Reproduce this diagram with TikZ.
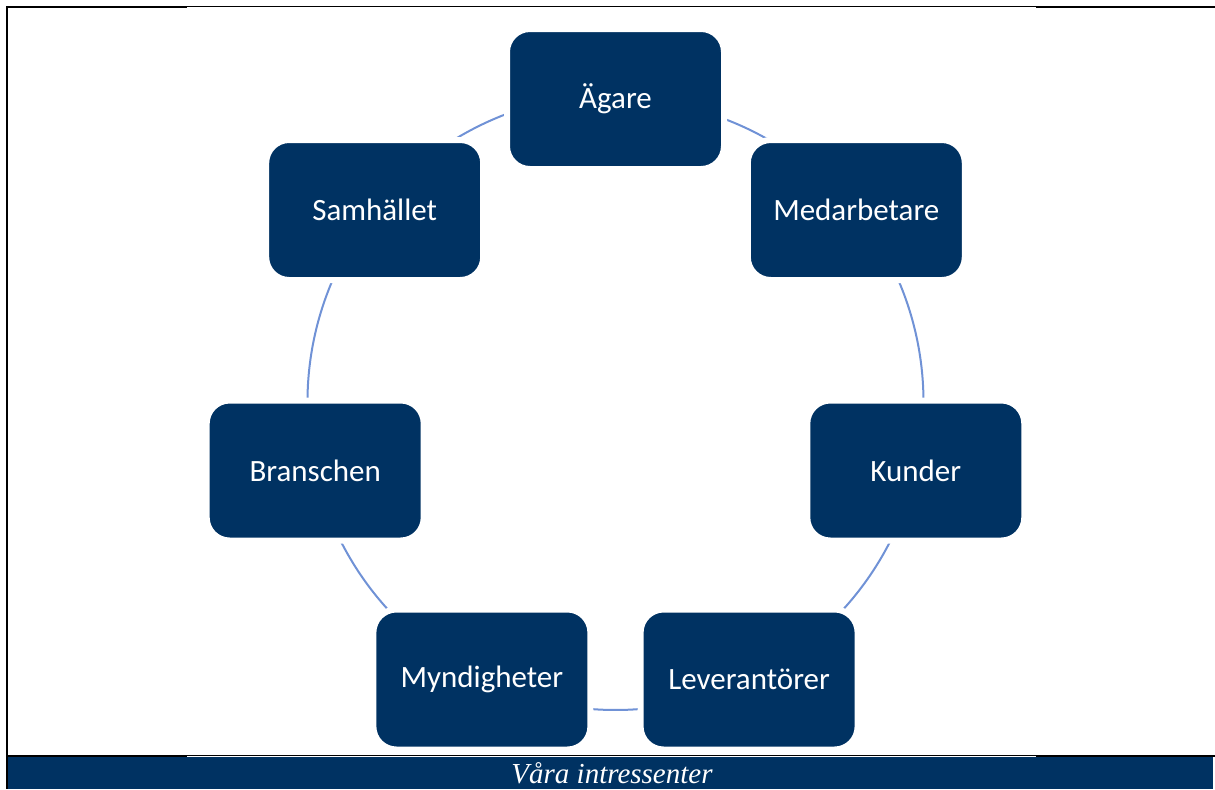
\documentclass[tikz,border=0pt]{standalone}
\usepackage{fontspec}
\setmainfont{Carlito}
\newfontfamily\captionserif{Liberation Serif}
\usetikzlibrary{backgrounds}

\definecolor{navy}{RGB}{0,50,98}
\definecolor{ringblue}{RGB}{112,146,214}

\tikzset{every picture/.style={line width=0.5pt}}
\tikzset{
  stakebox/.style={draw=white, line width=3pt, fill=navy, rounded corners=11.5pt,
    minimum width=108.5pt, minimum height=70pt, inner sep=0pt,
    text=white, font=\fontsize{15.5}{18}\selectfont},
  ring/.style={draw=ringblue, line width=1pt},
  rule/.style={draw=black, line width=1pt},
  thinrule/.style={draw=black, line width=0.5pt}
}

\begin{document}
\begin{tikzpicture}[x=0.5pt,y=0.5pt,yscale=-1,xscale=1]
\useasboundingbox (0,0) rectangle (1215,789);

% Frame
\draw [rule] (7,6) -- (7,789) ;
\draw [rule] (6,7) -- (187,7) ;
\draw [thinrule] (187,6.5) -- (1036,6.5) ;
\draw [rule] (1036,7) -- (1215,7) ;
\draw [rule] (7,755.5) -- (187,755.5) ;
\draw [thinrule] (187,755.5) -- (1036,755.5) ;
\draw [rule] (1036,755.5) -- (1215,755.5) ;

% Caption band
\fill [navy] (8,757) rectangle (1213,789) ;
\node (caption) at (612,773) [text=white, inner sep=0pt] {\captionserif\itshape\fontsize{14.5}{16}\selectfont Våra intressenter};

% Stakeholder boxes
\node [stakebox] (agare) at (615.5,99) {Ägare};
\node [stakebox] (medarb) at (856.3,210) {Medarbetare};
\node [stakebox] (kunder) at (915.8,470.5) {Kunder};
\node [stakebox] (lev) at (749.1,679.5) {Leverantörer};
\node [stakebox] (mynd) at (481.9,679.5) {Myndigheter};
\node [stakebox] (bransch) at (315.2,470.5) {Branschen};
\node [stakebox] (samh) at (374.7,210) {Samhället};

% Ring arcs
\begin{pgfonlayer}{background}
\draw [ring] (agare.center) arc [start angle=-90, end angle=-38.57, radius=308] ;
\draw [ring] (medarb.center) arc [start angle=-38.57, end angle=12.86, radius=308] ;
\draw [ring] (kunder.center) arc [start angle=12.86, end angle=64.29, radius=308] ;
\draw [ring] (lev.center) arc [start angle=64.29, end angle=115.71, radius=308] ;
\draw [ring] (mynd.center) arc [start angle=115.71, end angle=167.14, radius=308] ;
\draw [ring] (bransch.center) arc [start angle=167.14, end angle=218.57, radius=308] ;
\draw [ring] (samh.center) arc [start angle=218.57, end angle=270, radius=308] ;
\end{pgfonlayer}
\end{tikzpicture}
\end{document}
